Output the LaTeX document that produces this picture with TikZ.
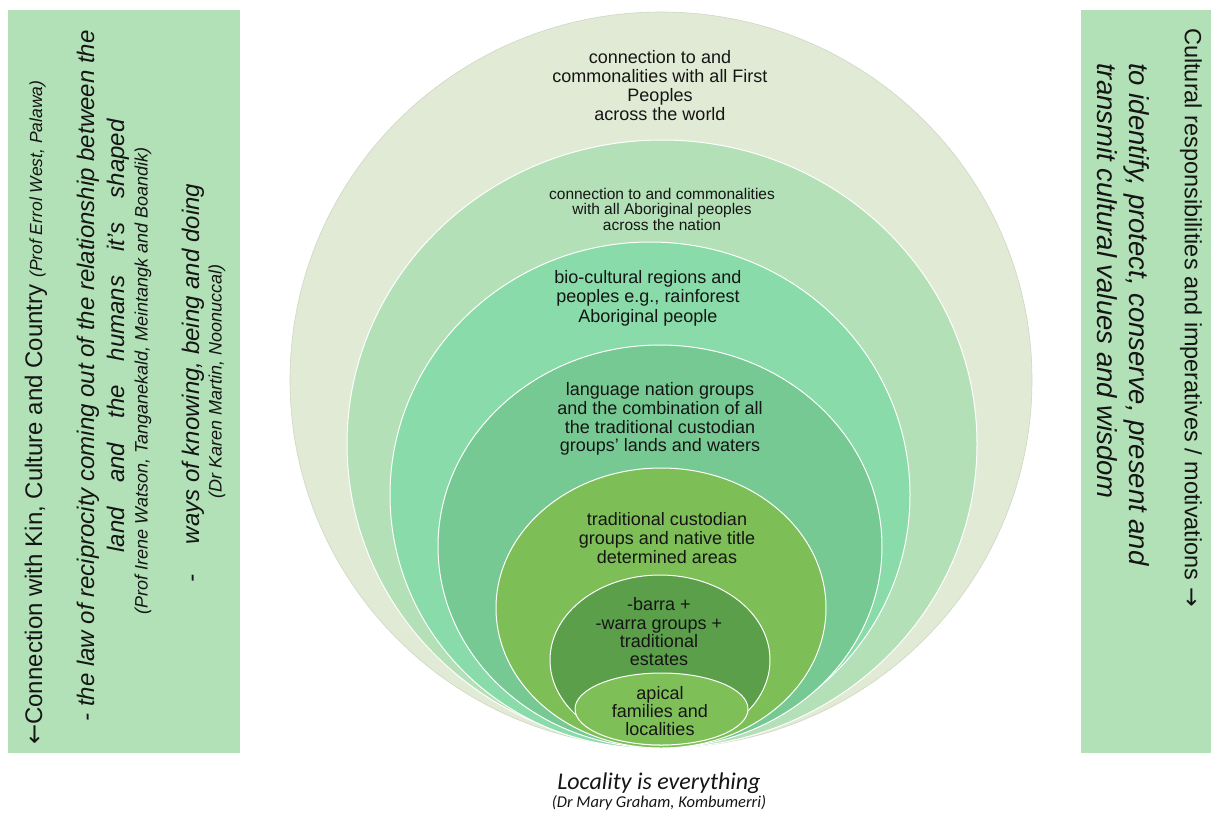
\documentclass[tikz,border=0pt]{standalone}
\usepackage{fontspec}
\setmainfont{Liberation Sans}
\newfontfamily\calfont{Carlito}
\newfontfamily\arrowfont{DejaVu Sans}
\usetikzlibrary{shapes.geometric}

\definecolor{panelgreen}{HTML}{B3E1B7}
\definecolor{ringA}{HTML}{E1EAD5}
\definecolor{ringB}{HTML}{B3E0B7}
\definecolor{ringC}{HTML}{89DCA9}
\definecolor{ringD}{HTML}{77C993}
\definecolor{ringE}{HTML}{7DBF56}
\definecolor{ringF}{HTML}{5B9F4B}
\definecolor{ringG}{HTML}{7EBF58}
\definecolor{inktext}{HTML}{151515}

\newcommand{\fs}[2]{\fontsize{#1}{#2}\selectfont}

\begin{document}
\begin{tikzpicture}[x=1pt,y=-1pt,
  panel/.style={fill=panelgreen, draw=none, inner sep=0pt},
  ring/.style={ellipse, inner sep=0pt, draw=white, line width=1pt},
  ringtext/.style={align=center, inner sep=0pt, text=inktext, font=\fs{18}{19}},
  sidetext/.style={inner sep=0pt, text=inktext}]
\useasboundingbox (0,0) rectangle (1211,815);

% side panels
\node[panel, minimum width=232pt, minimum height=743pt] (lp) at (124,381.5) {};
\node[panel, minimum width=130pt, minimum height=743pt] (rp) at (1146,381.5) {};

% nested rings, all touching at the bottom
\node[ring, fill=ringA, draw=ringA!92!black, line width=0.6pt, minimum width=742pt, minimum height=736pt] (e1) at (661,380) {};
\node[ring, fill=ringB, minimum width=630pt, minimum height=608pt] (e2) at (662,444) {};
\node[ring, fill=ringC, minimum width=520pt, minimum height=506pt] (e3) at (650,495) {};
\node[ring, fill=ringD, minimum width=444pt, minimum height=403pt] (e4) at (660,546.5) {};
\node[ring, fill=ringE, minimum width=330pt, minimum height=280pt] (e5) at (661,608) {};
\node[ring, fill=ringF, minimum width=220pt, minimum height=170pt] (e6) at (660,660) {};
\node[ring, fill=ringG, minimum width=173pt, minimum height=72pt] (e7) at (661.5,709) {};

% ring labels
\node[ringtext] (t1) at (660,86) {connection to and\\commonalities with all First\\Peoples\\across the world};
\node[ringtext, font=\fs{15.5}{15.5}] (t2) at (662,209) {connection to and commonalities\\with all Aboriginal peoples\\across the nation};
\node[ringtext, font=\fs{18}{19.5}] (t3) at (648,298) {bio-cultural regions and\\peoples e.g., rainforest\\Aboriginal people};
\node[ringtext, font=\fs{18}{18.7}] (t4) at (660,419) {language nation groups\\and the combination of all\\the traditional custodian\\groups' lands and waters};
\node[ringtext] (t5) at (667,538) {traditional custodian\\groups and native title\\determined areas};
\node[ringtext, font=\fs{18}{18.3}] (t6) at (659,632) {-barra +\\-warra groups +\\traditional\\estates};
\node[ringtext, font=\fs{18}{18}] (t7) at (660,711) {apical\\families and\\localities};

% left panel
\node[sidetext, rotate=90, anchor=west] (l1) at (36,745)
  {\fs{24}{28}{\arrowfont ←}Connection with Kin, Culture and Country {\fs{17.5}{20}\itshape (Prof Errol West, Palawa)}};
\node[sidetext, rotate=90, font=\fs{24}{28}\itshape] (l2) at (88,376)
  {- the law of reciprocity coming out of the relationship between the};
\node[sidetext, rotate=90, font=\fs{24}{28}\itshape] (l3) at (118,336)
  {\makebox[433pt][s]{land and the humans it's shaped}};
\node[sidetext, rotate=90, font=\fs{18}{20}\itshape] (l4) at (143,381)
  {(Prof Irene Watson, Tanganekald, Meintangk and Boandik)};
\node[sidetext, rotate=90, font=\fs{24}{28}\itshape] (l5) at (193,383)
  {-\hspace{30pt}ways of knowing, being and doing};
\node[sidetext, rotate=90, font=\fs{18}{20}\itshape] (l6) at (217,381)
  {(Dr Karen Martin, Noonuccal)};

% right panel
\node[sidetext, rotate=-90, anchor=west, font=\fs{23.5}{28}] (r1) at (1191,28)
  {Cultural responsibilities and imperatives / motivations {\arrowfont →}};
\node[sidetext, rotate=-90, anchor=west, font=\fs{27.5}{30}\itshape] (r2) at (1137,63)
  {to identify, protect, conserve, present and};
\node[sidetext, rotate=-90, anchor=west, font=\fs{27.5}{30}\itshape] (r3) at (1107,63)
  {transmit cultural values and wisdom};

% caption
\node[sidetext, font=\calfont\fs{24}{26}\itshape] (cap) at (659,783) {Locality is everything};
\node[sidetext, font=\calfont\fs{16.5}{18}\itshape] (src) at (659,803) {(Dr Mary Graham, Kombumerri)};
\end{tikzpicture}
\end{document}
